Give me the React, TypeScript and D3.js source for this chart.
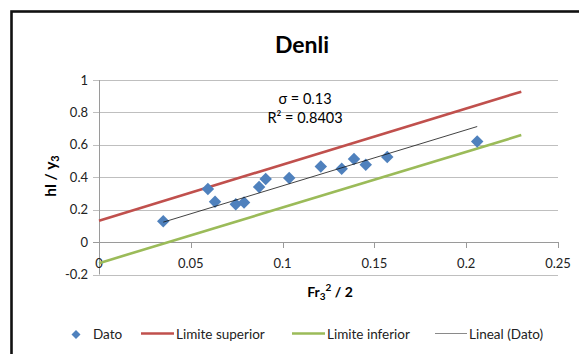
import React from "react";
import * as d3 from "d3";

const chartTitle = "Denli";
const datoX = [0.035, 0.0593, 0.0632, 0.0745, 0.079, 0.0872, 0.0908, 0.1036, 0.1208, 0.1322, 0.1389, 0.1453, 0.157, 0.206];
const datoY = [0.128, 0.327, 0.249, 0.234, 0.244, 0.34, 0.389, 0.395, 0.466, 0.452, 0.513, 0.477, 0.525, 0.62];
const limitX = [0, 0.23];
const superiorY = [0.132, 0.928];
const inferiorY = [-0.13, 0.66];
const trendX = [0.035, 0.206];
const trendY = [0.123, 0.713];
const xTicks = [0, 0.05, 0.1, 0.15, 0.2, 0.25];
const yTicks = [-0.2, 0, 0.2, 0.4, 0.6, 0.8, 1];
const legendLabels = ["Dato", "Limite superior", "Limite inferior", "Lineal (Dato)"];

const BLUE = "#4F81BD";
const RED = "#C0504D";
const GREEN = "#9BBB59";
const FONT = "Lato, 'Open Sans', sans-serif";

export default function App() {
  const x = d3.scaleLinear().domain([0, 0.25]).range([99, 558]);
  const y = d3.scaleLinear().domain([-0.2, 1]).range([274.5, 80]);
  const line = d3.line<[number, number]>().x((d) => x(d[0])).y((d) => y(d[1]));
  const pts = (xs: number[], ys: number[]) => xs.map((v, i) => [v, ys[i]] as [number, number]);
  const diamond = d3.symbol(d3.symbolSquare, 78)() as string;
  const legDiamond = d3.symbol(d3.symbolSquare, 40)() as string;
  const fmt = (v: number) => String(v);

  const legendItems = [
    { label: legendLabels[0], kind: "marker", lx: 76, tx: 93 },
    { label: legendLabels[1], kind: "line", color: RED, w: 2.5, lx0: 141, lx1: 174, tx: 176 },
    { label: legendLabels[2], kind: "line", color: GREEN, w: 2.5, lx0: 292, lx1: 325, tx: 327 },
    { label: legendLabels[3], kind: "line", color: "#8a8a8a", w: 1, lx0: 435, lx1: 467, tx: 469 },
  ];

  return (
    <svg width={579} height={354} style={{ position: "absolute", left: 0, top: 0, background: "#fff" }} fontFamily={FONT}>
      <rect x={0} y={0} width={579} height={354} fill="#fff" />
      <rect x={11.5} y={11.5} width={640} height={400} fill="#fff" stroke="#111" strokeWidth={2.6} />
      <text x={302} y={53} textAnchor="middle" fontSize={23} fontWeight="bold" fill="#000">{chartTitle}</text>

      {yTicks.map((t) => (
        <line key={"g" + t} x1={93} x2={558} y1={Math.round(y(t)) + 0.5} y2={Math.round(y(t)) + 0.5}
          stroke={t === 0 ? "#9a9a9a" : "#BFBFBF"} strokeWidth={1} />
      ))}
      <line x1={99.5} x2={99.5} y1={y(1)} y2={y(-0.2)} stroke="#9a9a9a" />
      {xTicks.map((t) => (
        <line key={"xt" + t} x1={Math.round(x(t)) + 0.5} x2={Math.round(x(t)) + 0.5}
          y1={Math.round(y(0))} y2={Math.round(y(0)) + 6} stroke="#9a9a9a" />
      ))}
      {yTicks.map((t) => (
        <text key={"yl" + t} x={88} y={y(t) + 4.5} textAnchor="end" fontSize={13} fill="#222">{fmt(t)}</text>
      ))}
      {xTicks.map((t) => (
        <text key={"xl" + t} x={x(t)} y={268} textAnchor="middle" fontSize={13} fill="#222">{fmt(t)}</text>
      ))}

      <text transform="translate(56,176) rotate(-90)" textAnchor="middle" fontSize={15.5} fontWeight="bold" fill="#000">
        hl / y<tspan fontSize={11} dy={3}>3</tspan>
      </text>
      <text x={330} y={297} textAnchor="middle" fontSize={14} fontWeight="bold" fill="#000">
        Fr<tspan fontSize={10} dy={3}>3</tspan><tspan fontSize={10} dy={-9}>2</tspan><tspan dy={6}> / 2</tspan>
      </text>

      <path d={line(pts(limitX, superiorY)) || ""} fill="none" stroke={RED} strokeWidth={2.6} />
      <path d={line(pts(limitX, inferiorY)) || ""} fill="none" stroke={GREEN} strokeWidth={2.6} />
      {datoX.map((v, i) => (
        <path key={"p" + i} d={diamond} transform={`translate(${x(v)},${y(datoY[i])}) rotate(45)`} fill={BLUE} />
      ))}
      <path d={line(pts(trendX, trendY)) || ""} fill="none" stroke="#111" strokeWidth={0.8} />

      <text x={305} y={104} textAnchor="middle" fontSize={14.5} fill="#000">σ = 0.13</text>
      <text x={305} y={123} textAnchor="middle" fontSize={14.5} fill="#000">R² = 0.8403</text>

      {legendItems.map((it) => (
        <g key={it.label}>
          {it.kind === "marker" ? (
            <path d={legDiamond} transform={`translate(${it.lx},334.5) rotate(45)`} fill={BLUE} />
          ) : (
            <line x1={it.lx0} x2={it.lx1} y1={333.5} y2={333.5} stroke={it.color} strokeWidth={it.w} />
          )}
          <text x={it.tx} y={339} fontSize={13.5} fill="#222">{it.label}</text>
        </g>
      ))}
    </svg>
  );
}
